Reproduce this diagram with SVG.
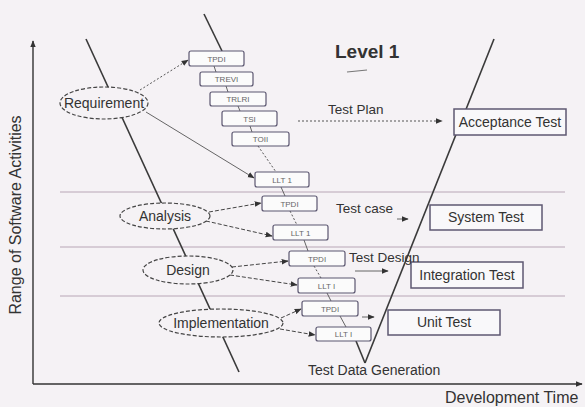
<svg xmlns="http://www.w3.org/2000/svg" width="585" height="407" viewBox="0 0 585 407">
<defs>
<marker id="ah" viewBox="0 0 10 10" refX="9" refY="5" markerWidth="7" markerHeight="7" orient="auto" markerUnits="userSpaceOnUse"><path d="M0,1 L10,5 L0,9 z" fill="#333"/></marker>
<style>
text{font-family:"Liberation Sans",Arial,sans-serif;fill:#333}
.sep{stroke:#b8a6b6;stroke-width:1;fill:none}
.ax{stroke:#333;stroke-width:1.4;fill:none}
.diag{stroke:#3a3a3a;stroke-width:1.6;fill:none}
.ell{fill:#f5f2f5;stroke:#444;stroke-width:1.2;stroke-dasharray:4 2}
.sb{fill:#fbfbfb;stroke:#5b5670;stroke-width:1.2}
.bb{fill:#f9f8fa;stroke:#5e5872;stroke-width:1.5}
.sl{font-size:8px;fill:#666;text-anchor:middle}
.bl{font-size:14px;text-anchor:middle}
.el{font-size:14px;text-anchor:middle}
.lab{font-size:13.5px}
.dash{stroke:#444;stroke-width:1;stroke-dasharray:4 2;fill:none}
.dot{stroke:#555;stroke-width:1;stroke-dasharray:2 2;fill:none}
.thin{stroke:#555;stroke-width:0.9;fill:none}
</style>
</defs>
<rect width="585" height="407" fill="#f5f2f5"/>
<g id="frame">
<line class="sep" x1="60" y1="192" x2="565" y2="192"/>
<line class="sep" x1="60" y1="247" x2="565" y2="247"/>
<line class="sep" x1="60" y1="296" x2="565" y2="296"/>
<path class="ax" d="M33,384 L33,41" marker-end="url(#ah)"/>
<path class="ax" d="M33,384 L582,384" marker-end="url(#ah)"/>
<text x="21" y="215" font-size="16" text-anchor="middle" transform="rotate(-90 21 215)">Range of Software Activities</text>
<text x="445" y="403" font-size="16">Development Time</text>
<text x="335" y="58" font-size="19" font-weight="bold">Level 1</text>
<line x1="347" y1="72" x2="367" y2="70" stroke="#777" stroke-width="1.2"/>
<line class="diag" x1="86" y1="39" x2="239" y2="372"/>
<line class="diag" x1="204" y1="14" x2="222" y2="51"/>
<line class="diag" x1="365" y1="363" x2="494" y2="39"/>
</g>
<g id="connectors">
<path class="dot" d="M140,90 L188,60" marker-end="url(#ah)"/>
<path class="thin" d="M146,112 L254,178" marker-end="url(#ah)"/>
<path class="dash" d="M209,212 L261,203" marker-end="url(#ah)"/>
<path class="dash" d="M206,221 L272,236" marker-end="url(#ah)"/>
<path class="dash" d="M232,267 L288,261" marker-end="url(#ah)"/>
<path class="dash" d="M230,275 L297,285" marker-end="url(#ah)"/>
<path class="dash" d="M281,318 L301,309" marker-end="url(#ah)"/>
<path class="dash" d="M280,329 L315,335" marker-end="url(#ah)"/>
<path class="thin" d="M214,66 L216,72"/>
<path class="thin" d="M226,86 L228,92"/>
<path class="thin" d="M238,106 L240,111"/>
<path class="thin" d="M250,126 L252,132"/>
<path class="dot" d="M258,146 L276,172"/>
<path class="thin" d="M281,187 L285,196"/>
<path class="dot" d="M290,211 L297,225"/>
<path class="thin" d="M304,240 L308,251"/>
<path class="dot" d="M314,266 L321,278"/>
<path class="thin" d="M327,293 L331,301"/>
<path class="thin" d="M340,316 L346,327"/>
<path class="diag" d="M356,341 L365,363"/>
<path class="dot" d="M298,121 L442,121" stroke="#999" marker-end="url(#ah)"/>
<path class="thin" d="M397,219 L408,219" marker-end="url(#ah)"/>
<path class="thin" d="M355,271 L388,271" marker-end="url(#ah)"/>
<path class="thin" d="M362,317 L374,317" marker-end="url(#ah)"/>
</g>
<g id="requirement"><ellipse class="ell" cx="104" cy="103" rx="44" ry="16"/><text class="el" x="104" y="108" font-size="13">Requirement</text></g>
<g id="analysis"><ellipse class="ell" cx="165" cy="216" rx="45" ry="13"/><text class="el" x="165" y="221">Analysis</text></g>
<g id="design"><ellipse class="ell" cx="188" cy="270" rx="45" ry="14"/><text class="el" x="188" y="275">Design</text></g>
<g id="implementation"><ellipse class="ell" cx="221" cy="323" rx="62" ry="14"/><text class="el" x="221" y="328">Implementation</text></g>
<g id="tpdi1"><rect class="sb" x="189" y="51" width="55" height="15" rx="2"/><text class="sl" x="216.5" y="61.5">TPDI</text></g>
<g id="trevi"><rect class="sb" x="200" y="72" width="53" height="14" rx="2"/><text class="sl" x="226.5" y="82">TREVI</text></g>
<g id="trlri"><rect class="sb" x="210" y="92" width="56" height="14" rx="2"/><text class="sl" x="238" y="102">TRLRI</text></g>
<g id="tsi"><rect class="sb" x="222" y="111" width="55" height="15" rx="2"/><text class="sl" x="249.5" y="121.5">TSI</text></g>
<g id="toii"><rect class="sb" x="232" y="132" width="57" height="14" rx="2"/><text class="sl" x="260.5" y="142">TOII</text></g>
<g id="llt1a"><rect class="sb" x="255" y="172" width="54" height="15" rx="2"/><text class="sl" x="282" y="182.5">LLT 1</text></g>
<g id="tpdi2"><rect class="sb" x="262" y="196" width="55" height="15" rx="2"/><text class="sl" x="289.5" y="206.5">TPDI</text></g>
<g id="llt1b"><rect class="sb" x="273" y="225" width="55" height="15" rx="2"/><text class="sl" x="300.5" y="235.5">LLT 1</text></g>
<g id="tpdi3"><rect class="sb" x="289" y="251" width="56" height="15" rx="2"/><text class="sl" x="317" y="261.5">TPDI</text></g>
<g id="llt1c"><rect class="sb" x="298" y="278" width="57" height="15" rx="2"/><text class="sl" x="326.5" y="288.5">LLT I</text></g>
<g id="tpdi4"><rect class="sb" x="302" y="301" width="56" height="15" rx="2"/><text class="sl" x="330" y="311.5">TPDI</text></g>
<g id="llt1d"><rect class="sb" x="316" y="327" width="55" height="14" rx="2"/><text class="sl" x="343.5" y="337">LLT I</text></g>
<g id="acceptance"><rect class="bb" x="454" y="109" width="112" height="26"/><text class="bl" x="510" y="127">Acceptance Test</text></g>
<g id="system"><rect class="bb" x="430" y="205" width="112" height="25"/><text class="bl" x="486" y="222">System Test</text></g>
<g id="integration"><rect class="bb" x="411" y="262" width="112" height="26"/><text class="bl" x="467" y="280">Integration Test</text></g>
<g id="unit"><rect class="bb" x="388" y="310" width="112" height="25"/><text class="bl" x="444" y="327">Unit Test</text></g>
<g id="labels">
<text class="lab" x="328" y="114">Test Plan</text>
<text class="lab" x="336" y="213">Test case</text>
<text class="lab" x="349" y="262">Test Design</text>
<text x="308" y="375" font-size="14">Test Data Generation</text>
</g>
</svg>
